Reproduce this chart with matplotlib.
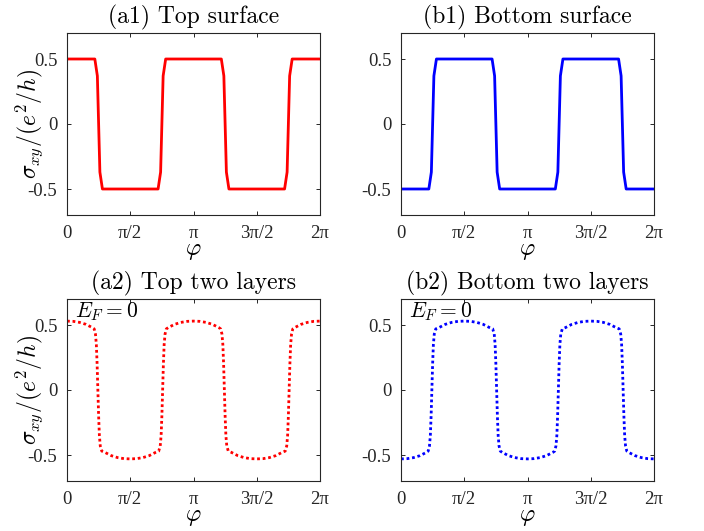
# Hall conductance vs magnetization angle, four panels
import numpy as np
import matplotlib.pyplot as plt

plt.rcParams['mathtext.fontset'] = 'cm'

# phi in units of pi
phi_surf = [0, 0.22, 0.24, 0.26, 0.28, 0.72, 0.74, 0.76, 0.78,
            1.22, 1.24, 1.26, 1.28, 1.72, 1.74, 1.76, 1.78, 2.0]
sig_top = [0.5, 0.5, 0.37, -0.37, -0.5, -0.5, -0.37, 0.37, 0.5,
           0.5, 0.37, -0.37, -0.5, -0.5, -0.37, 0.37, 0.5, 0.5]
sig_bot = [-0.5, -0.5, -0.37, 0.37, 0.5, 0.5, 0.37, -0.37, -0.5,
           -0.5, -0.37, 0.37, 0.5, 0.5, 0.37, -0.37, -0.5, -0.5]

phi_two = [0, 0.05, 0.1, 0.15, 0.2, 0.215,
           0.225, 0.232, 0.238, 0.244, 0.25, 0.256, 0.263, 0.275,
           0.3, 0.35, 0.4, 0.45, 0.5, 0.55, 0.6, 0.65, 0.7, 0.725,
           0.737, 0.744, 0.75, 0.756, 0.762, 0.768, 0.775, 0.785,
           0.8, 0.85, 0.9, 0.95, 1.0, 1.05, 1.1, 1.15, 1.2, 1.215,
           1.225, 1.232, 1.238, 1.244, 1.25, 1.256, 1.263, 1.275,
           1.3, 1.35, 1.4, 1.45, 1.5, 1.55, 1.6, 1.65, 1.7, 1.725,
           1.737, 1.744, 1.75, 1.756, 1.762, 1.768, 1.775, 1.785,
           1.8, 1.85, 1.9, 1.95, 2.0]
sig_top2 = [0.53, 0.528, 0.52, 0.505, 0.48, 0.47,
            0.43, 0.35, 0.2, 0.0, -0.2, -0.35, -0.43, -0.47,
            -0.48, -0.505, -0.52, -0.528, -0.53, -0.528, -0.52, -0.505, -0.48, -0.47,
            -0.43, -0.35, -0.2, 0.0, 0.2, 0.35, 0.43, 0.47,
            0.48, 0.505, 0.52, 0.528, 0.53, 0.528, 0.52, 0.505, 0.48, 0.47,
            0.43, 0.35, 0.2, 0.0, -0.2, -0.35, -0.43, -0.47,
            -0.48, -0.505, -0.52, -0.528, -0.53, -0.528, -0.52, -0.505, -0.48, -0.47,
            -0.43, -0.35, -0.2, 0.0, 0.2, 0.35, 0.43, 0.47,
            0.48, 0.505, 0.52, 0.528, 0.53]
sig_bot2 = [-v for v in sig_top2]

xtick_vals = [0, 0.5, 1, 1.5, 2]
xtick_labels = ['0', 'π/2', 'π', '3π/2', '2π']
ytick_vals = [-0.5, 0, 0.5]
ytick_labels = ['-0.5', '0', '0.5']

fig = plt.figure(figsize=(7.04, 5.31), dpi=100)

W, H = 704, 531
def make_ax(left, top):
    return fig.add_axes([left / W, 1 - (top + 182) / H, 253 / W, 182 / H])

panels = [
    (67, 33, phi_surf, sig_top, 'red', '-', '(a1) Top surface', True, False),
    (401, 33, phi_surf, sig_bot, 'blue', '-', '(b1) Bottom surface', False, False),
    (67, 299, phi_two, sig_top2, 'red', (0, (1, 1)), '(a2) Top two layers', True, True),
    (401, 299, phi_two, sig_bot2, 'blue', (0, (1, 1)), '(b2) Bottom two layers', False, True),
]

axc = '#262626'
for left, top, x, y, col, ls, title, ylab, ef in panels:
    ax = make_ax(left, top)
    ax.plot(np.array(x) * np.pi, y, color=col, ls=ls, lw=2.0)
    ax.set_xlim(0, 2 * np.pi)
    ax.set_ylim(-0.7, 0.7)
    ax.set_xticks(np.array(xtick_vals) * np.pi)
    ax.set_xticklabels(xtick_labels)
    ax.set_yticks(ytick_vals)
    ax.set_yticklabels(ytick_labels)
    ax.tick_params(direction='in', length=3, width=0.7, top=True, right=True,
                   colors=axc, labelsize=13.5, pad=7)
    for lab in ax.get_xticklabels() + ax.get_yticklabels():
        lab.set_family('Liberation Serif')
    for s in ax.spines.values():
        s.set_color(axc)
        s.set_linewidth(0.8)
    ax.set_title(title, family='cmr10', fontsize=17, pad=7)
    ax.set_xlabel(r'$\varphi$', fontsize=17)
    ax.xaxis.set_label_coords(0.5, -0.125)
    if ylab:
        ax.set_ylabel(r'$\sigma_{xy}/(e^2/h)$', fontsize=17)
        ax.yaxis.set_label_coords(-0.088, 0.5)
    if ef:
        ax.text(0.03, 0.995, r'$E_F=0$', transform=ax.transAxes,
                fontsize=15.5, va='top', ha='left')

fig.savefig('out.png', dpi=100)
